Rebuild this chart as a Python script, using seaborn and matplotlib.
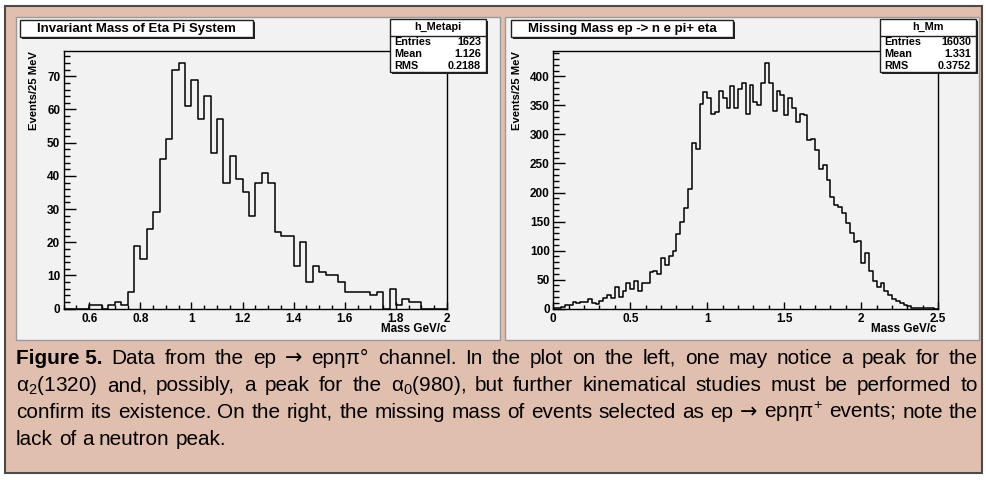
import numpy as np
import pandas as pd
import matplotlib
matplotlib.use("Agg")
import matplotlib.pyplot as plt
import seaborn as sns
from matplotlib.patches import Rectangle
from matplotlib.lines import Line2D

# ---------------- data ----------------
left_bin_start = 0.5
left_bin_width = 0.025
left_counts = [0, 0, 0, 0, 1, 1, 0, 1, 2, 1,
               5, 19, 15, 24, 29, 45, 51, 72, 74, 61,
               69, 57, 64, 47, 57, 38, 46, 39, 35, 28,
               38, 41, 38, 23, 22, 22, 13, 20, 8, 13,
               11, 10, 10, 8, 5, 5, 5, 5, 4, 5,
               0, 6, 1, 3, 2, 2, 0, 0, 0, 0]

right_bin_start = 0.0
right_bin_width = 0.025
right_counts = [1, 2, 3, 6, 7, 12, 10, 11, 12, 16,
                9, 8, 14, 19, 23, 18, 37, 21, 31, 45,
                34, 47, 30, 45, 45, 64, 65, 60, 87, 75,
                91, 99, 128, 149, 174, 206, 286, 275, 353, 373,
                362, 336, 339, 375, 363, 346, 383, 346, 379, 388,
                335, 385, 355, 350, 388, 423, 389, 341, 375, 368,
                334, 362, 345, 322, 336, 334, 290, 293, 274, 241,
                248, 221, 193, 178, 175, 164, 148, 131, 115, 117,
                79, 96, 65, 48, 37, 45, 31, 23, 17, 14,
                10, 7, 4, 2, 2, 2, 1, 1, 1, 0]

left_title = "Invariant Mass of Eta Pi System"
right_title = "Missing Mass ep -> n e pi+ eta"
left_stats_name = "h_Metapi"
right_stats_name = "h_Mm"
stat_labels = ["Entries", "Mean", "RMS"]
left_stats = ["1623", "1.126", "0.2188"]
right_stats = ["16030", "1.331", "0.3752"]
y_label = "Events/25 MeV"
x_label = "Mass GeV/c"

left_xticks = [0.6, 0.8, 1.0, 1.2, 1.4, 1.6, 1.8, 2.0]
left_xticklabels = ["0.6", "0.8", "1", "1.2", "1.4", "1.6", "1.8", "2"]
left_yticks = [0, 10, 20, 30, 40, 50, 60, 70]
right_xticks = [0, 0.5, 1.0, 1.5, 2.0, 2.5]
right_xticklabels = ["0", "0.5", "1", "1.5", "2", "2.5"]
right_yticks = [0, 50, 100, 150, 200, 250, 300, 350, 400]

caption_lines = [
    [("Figure 5.", "bold"), ("Data", "normal"), ("from", "normal"), ("the", "normal"),
     ("ep", "normal"), ("→", "normal"), ("epηπ°", "normal"), ("channel.", "normal"),
     ("In", "normal"), ("the", "normal"), ("plot", "normal"), ("on", "normal"),
     ("the", "normal"), ("left,", "normal"), ("one", "normal"), ("may", "normal"),
     ("notice", "normal"), ("a", "normal"), ("peak", "normal"), ("for", "normal"), ("the", "normal")],
    [("α$_2$(1320)", "normal"), ("and,", "normal"), ("possibly,", "normal"), ("a", "normal"),
     ("peak", "normal"), ("for", "normal"), ("the", "normal"), ("α$_0$(980),", "normal"),
     ("but", "normal"), ("further", "normal"), ("kinematical", "normal"), ("studies", "normal"),
     ("must", "normal"), ("be", "normal"), ("performed", "normal"), ("to", "normal")],
    [("confirm", "normal"), ("its", "normal"), ("existence.", "normal"), ("On", "normal"),
     ("the", "normal"), ("right,", "normal"), ("the", "normal"), ("missing", "normal"),
     ("mass", "normal"), ("of", "normal"), ("events", "normal"), ("selected", "normal"),
     ("as", "normal"), ("ep", "normal"), ("→", "normal"), ("epηπ$^{+}$", "normal"),
     ("events;", "normal"), ("note", "normal"), ("the", "normal")],
    [("lack", "normal"), ("of", "normal"), ("a", "normal"), ("neutron", "normal"), ("peak.", "normal")],
]

# ---------------- style ----------------
sns.set_theme(style="white")
plt.rcParams["font.family"] = ["Liberation Sans", "DejaVu Sans"]
plt.rcParams["mathtext.fontset"] = "custom"
plt.rcParams["mathtext.rm"] = "Liberation Sans"
plt.rcParams["mathtext.it"] = "Liberation Sans:italic"
plt.rcParams["mathtext.bf"] = "Liberation Sans:bold"
for k in ("text.color", "axes.labelcolor", "xtick.color", "ytick.color"):
    plt.rcParams[k] = "black"

W, H = 987, 480
fig = plt.figure(figsize=(W / 100, H / 100), dpi=100)
fig.patch.set_facecolor("white")
renderer = fig.canvas.get_renderer()

TAN = "#E1BFAE"
PAD = "#F2F2F2"


def fxy(x, y):
    return x / W, 1 - y / H


def rect(x0, y0, x1, y1, **kw):
    r = Rectangle((x0 / W, 1 - y1 / H), (x1 - x0) / W, (y1 - y0) / H,
                  transform=fig.transFigure, **kw)
    fig.add_artist(r)
    return r


def hline(x0, x1, y, **kw):
    fig.add_artist(Line2D([x0 / W, x1 / W], [1 - y / H, 1 - y / H],
                          transform=fig.transFigure, **kw))


# outer tan frame and pads
rect(5, 6, 982, 473, fc=TAN, ec="#4a4a4a", lw=1.5, zorder=-20)
rect(16, 17, 500, 340, fc=PAD, ec="#9a9a9a", lw=1.0, zorder=-10)
rect(505, 17, 979, 340, fc=PAD, ec="#9a9a9a", lw=1.0, zorder=-10)


def make_panel(ax_box, counts, start, width, xlim, xticks, xticklabels, yticks,
               xminor, yminor):
    x0, y0, x1, y1 = ax_box
    ax = fig.add_axes([x0 / W, 1 - y1 / H, (x1 - x0) / W, (y1 - y0) / H])
    ax.set_facecolor(PAD)
    n = len(counts)
    edges = [start + width * i for i in range(n + 1)]
    centers = [start + width * (i + 0.5) for i in range(n)]
    df = pd.DataFrame({"mass": centers, "events": counts})
    sns.histplot(data=df, x="mass", weights="events", bins=edges, element="step",
                 fill=False, color="black", linewidth=1.1, ax=ax)
    ax.set_xlim(*xlim)
    ax.set_ylim(0, 1.05 * max(counts))
    ax.set_xlabel("")
    ax.set_ylabel("")
    for s in ax.spines.values():
        s.set_visible(True)
        s.set_color("black")
        s.set_linewidth(1.0)
    ax.set_xticks(xticks)
    ax.set_xticklabels(xticklabels, fontweight="bold", fontsize=8.5)
    ax.set_yticks(yticks)
    ax.set_yticklabels([str(v) for v in yticks], fontweight="bold", fontsize=8.5)
    ax.set_xticks(np.arange(xlim[0], xlim[1] + 1e-9, xminor), minor=True)
    ax.set_yticks(np.arange(0, 1.05 * max(counts), yminor), minor=True)
    ax.tick_params(axis="x", which="major", direction="in", length=5.3, width=1.0,
                   pad=3, colors="black", bottom=True, top=False)
    ax.tick_params(axis="x", which="minor", direction="in", length=2.7, width=1.0,
                   bottom=True, top=False)
    ax.tick_params(axis="y", which="major", direction="in", length=8.4, width=1.0,
                   pad=2.5, colors="black", left=True, right=False)
    ax.tick_params(axis="y", which="minor", direction="in", length=4.3, width=1.0,
                   left=True, right=False)
    return ax


axL = make_panel((63.7, 50.7, 447.0, 308.7), left_counts, left_bin_start, left_bin_width,
                 (0.5, 2.0), left_xticks, left_xticklabels, left_yticks, 0.05, 2)
axR = make_panel((553.3, 50.7, 938.3, 308.7), right_counts, right_bin_start, right_bin_width,
                 (0.0, 2.5), right_xticks, right_xticklabels, right_yticks, 0.1, 10)

# axis labels
for xc in (34, 517):
    fig.text(*fxy(xc, 51), y_label, rotation=90, ha="center", va="top",
             fontweight="bold", fontsize=8.1)
for xr in (447, 937):
    fig.text(*fxy(xr, 329), x_label, ha="right", va="center",
             fontweight="bold", fontsize=8.4)


def fit_size(text, target_px, weight="bold", base=10.0):
    t = fig.text(0, 0, text, fontsize=base, fontweight=weight)
    w = t.get_window_extent(renderer).width
    t.remove()
    return base * target_px / w


# title boxes with shadow
def title_box(x0, y0, x1, y1, text, text_w):
    rect(x0 + 2, y0 + 2, x1 + 2, y1 + 2, fc="#202020", ec="none", zorder=5)
    rect(x0, y0, x1, y1, fc="white", ec="#202020", lw=1.0, zorder=6)
    fs = fit_size(text, text_w)
    fig.text(*fxy((x0 + x1) / 2, (y0 + y1) / 2 + 0.5), text, ha="center", va="center",
             fontweight="bold", fontsize=fs, zorder=7)


title_box(20, 20, 253, 37, left_title, 200)
title_box(511, 20, 733, 37, right_title, 190)


def stats_box(x0, y0, x1, y1, name, values):
    rect(x0 + 2, y0 + 2, x1 + 2, y1 + 2, fc="#202020", ec="none", zorder=5)
    rect(x0, y0, x1, y1, fc="white", ec="#202020", lw=1.0, zorder=6)
    fig.text(*fxy((x0 + x1) / 2, y0 + 8), name, ha="center", va="center",
             fontweight="bold", fontsize=7.8, zorder=7)
    hline(x0, x1, y0 + 17, color="#202020", lw=1.0, zorder=7)
    for i, (lab, val) in enumerate(zip(stat_labels, values)):
        yy = y0 + 23 + 12 * i
        fig.text(*fxy(x0 + 4, yy), lab, ha="left", va="center",
                 fontweight="bold", fontsize=7.8, zorder=7)
        fig.text(*fxy(x1 - 5, yy), val, ha="right", va="center",
                 fontweight="bold", fontsize=7.8, zorder=7)


stats_box(390, 19, 486, 72, left_stats_name, left_stats)
stats_box(880, 19, 976, 72, right_stats_name, right_stats)

# ---------------- caption (justified, Arial-like) ----------------
CX0, CX1 = 16, 978
baselines = [364, 391, 418, 445]


def tok_kw(s):
    if s == "→":
        return {"family": ["DejaVu Sans"]}
    return {"family": ["Liberation Sans", "DejaVu Sans"]}


def measure(s, weight, size):
    t = fig.text(0, 0, s, fontsize=size, fontweight=weight, **tok_kw(s))
    w = t.get_window_extent(renderer).width
    t.remove()
    return w


base = 12.0
space_w = measure("a a", "normal", base) - measure("aa", "normal", base)
naturals = []
for line in caption_lines[:3]:
    ws = sum(measure(s, w, base) for s, w in line)
    naturals.append(ws + space_w * (len(line) - 1))
cap_size = base * (CX1 - CX0 - 12) / max(naturals)
space_w = space_w * cap_size / base

for i, line in enumerate(caption_lines):
    widths = [measure(s, w, cap_size) for s, w in line]
    if i < 3:
        gap = (CX1 - CX0 - sum(widths)) / (len(line) - 1)
    else:
        gap = space_w
    x = CX0
    for (s, w), wd in zip(line, widths):
        fig.text(*fxy(x, baselines[i]), s, ha="left", va="baseline",
                 fontsize=cap_size, fontweight=w, **tok_kw(s))
        x += wd + gap

fig.savefig("out.png", dpi=100, facecolor="white")
